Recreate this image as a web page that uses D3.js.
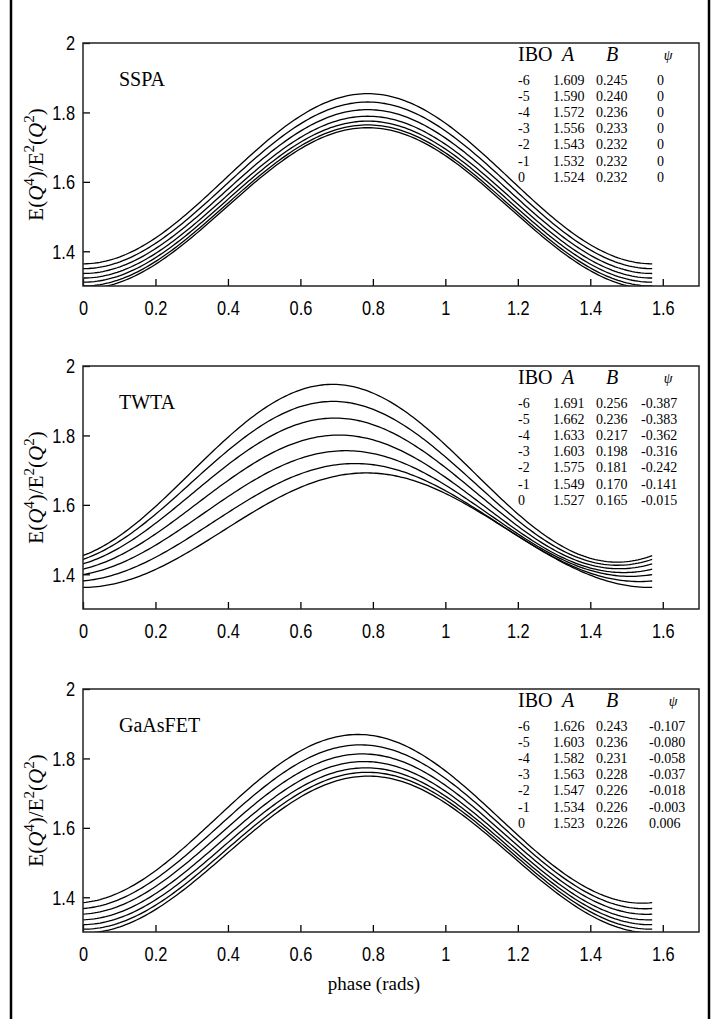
<!DOCTYPE html>
<html>
<head>
<meta charset="utf-8">
<script src="https://cdn.jsdelivr.net/npm/d3@7"></script>
<style>
  body { margin: 0; background: #fff; }
  svg { display: block; }
  .tick text { font-family: "Liberation Sans", Arial, sans-serif; font-size: 21px; fill: #000; }
  .serif { font-family: "Liberation Serif", "Times New Roman", serif; fill: #000; }
</style>
</head>
<body>
<div id="chart"></div>
<script>
// table values printed in each panel
const ibo = [-6, -5, -4, -3, -2, -1, 0];

const sspaA   = [1.609, 1.590, 1.572, 1.556, 1.543, 1.532, 1.524];
const sspaB   = [0.245, 0.240, 0.236, 0.233, 0.232, 0.232, 0.232];
const sspaPsi = [0, 0, 0, 0, 0, 0, 0];

const twtaA   = [1.691, 1.662, 1.633, 1.603, 1.575, 1.549, 1.527];
const twtaB   = [0.256, 0.236, 0.217, 0.198, 0.181, 0.170, 0.165];
const twtaPsi = [-0.387, -0.383, -0.362, -0.316, -0.242, -0.141, -0.015];

const gaasA   = [1.626, 1.603, 1.582, 1.563, 1.547, 1.534, 1.523];
const gaasB   = [0.243, 0.236, 0.231, 0.228, 0.226, 0.226, 0.226];
const gaasPsi = [-0.107, -0.080, -0.058, -0.037, -0.018, -0.003, 0.006];

const sspaPsiLbl = ["0", "0", "0", "0", "0", "0", "0"];
const twtaPsiLbl = ["-0.387", "-0.383", "-0.362", "-0.316", "-0.242", "-0.141", "-0.015"];
const gaasPsiLbl = ["-0.107", "-0.080", "-0.058", "-0.037", "-0.018", "-0.003", "0.006"];

const xTicks = [0, 0.2, 0.4, 0.6, 0.8, 1, 1.2, 1.4, 1.6];
const yTicks = [1.4, 1.6, 1.8, 2];

const panels = [
    {name: "SSPA", A: sspaA, B: sspaB, psi: sspaPsi, psiLbl: sspaPsiLbl, top: 43, psiX: 657, psiHead: 668},
    {name: "TWTA", A: twtaA, B: twtaB, psi: twtaPsi, psiLbl: twtaPsiLbl, top: 366, psiX: 641, psiHead: 668},
    {name: "GaAsFET", A: gaasA, B: gaasB, psi: gaasPsi, psiLbl: gaasPsiLbl, top: 689, psiX: 649, psiHead: 673}
];

var W = 726, H = 1019
    ,left = 83
    ,right = 699
    ,ph = 243
    ,sx = 0.78; // squeeze for the narrow tick font

var svg = d3.select("#chart").append("svg")
    .attr("width", W)
    .attr("height", H);

// outer frame
svg.append("rect")
    .attr("x", 11).attr("y", -5)
    .attr("width", 698).attr("height", H + 10)
    .attr("fill", "none")
    .attr("stroke", "#000")
    .attr("stroke-width", 2.5);

var x = d3.scaleLinear().domain([0, 1.7]).range([left, right]);

// phase grid 0..pi/2
var phase = d3.range(0, 201).map(i => i / 200 * Math.PI / 2);

panels.forEach((p, pi) => {
    var y = d3.scaleLinear().domain([1.3, 2]).range([p.top + ph, p.top]);
    var g = svg.append("g");

    g.append("clipPath").attr("id", "clip" + pi)
        .append("rect")
        .attr("x", left).attr("y", p.top)
        .attr("width", right - left).attr("height", ph);

    var line = d3.line()
        .x(d => x(d[0]))
        .y(d => y(d[1]));

    var curves = ibo.map((v, i) => phase.map(t => [t, p.A[i] - p.B[i] * Math.cos(4 * t - p.psi[i])]));

    g.append("g")
        .attr("clip-path", "url(#clip" + pi + ")")
        .selectAll("path")
        .data(curves)
        .enter()
        .append("path")
        .attr("d", line)
        .attr("fill", "none")
        .attr("stroke", "#000")
        .attr("stroke-width", 1.3);

    var xAxis = d3.axisBottom(x)
        .tickValues(xTicks)
        .tickFormat(d3.format("~g"))
        .tickSizeInner(-7)
        .tickSizeOuter(0)
        .tickPadding(14);

    var yAxis = d3.axisLeft(y)
        .tickValues(yTicks)
        .tickFormat(d3.format("~g"))
        .tickSizeInner(-7)
        .tickSizeOuter(0)
        .tickPadding(8);

    var gx = g.append("g")
        .attr("transform", "translate(0," + (p.top + ph) + ")")
        .call(xAxis)
        .call(a => a.select(".domain").remove());
    gx.selectAll("line").attr("stroke", "#000").attr("stroke-width", 1.3);
    gx.selectAll("text").attr("transform", "scale(" + sx + ",1)");

    var gy = g.append("g")
        .attr("transform", "translate(" + left + ",0)")
        .call(yAxis)
        .call(a => a.select(".domain").remove());
    gy.selectAll("line").attr("stroke", "#000").attr("stroke-width", 1.3);
    gy.selectAll("text")
        .attr("x", -8 / sx)
        .attr("transform", "scale(" + sx + ",1)");

    // box
    g.append("rect")
        .attr("x", left).attr("y", p.top)
        .attr("width", right - left).attr("height", ph)
        .attr("fill", "none")
        .attr("stroke", "#222")
        .attr("stroke-width", 1.5);

    // panel name
    g.append("text")
        .attr("class", "serif")
        .attr("x", 119).attr("y", p.top + 43)
        .style("font-size", "20px")
        .text(p.name);

    // y label
    var yl = g.append("text")
        .attr("class", "serif")
        .attr("transform", "translate(43," + (p.top + ph / 2) + ") rotate(-90)")
        .attr("text-anchor", "middle")
        .style("font-size", "21px");
    yl.append("tspan").text("E(");
    yl.append("tspan").style("font-style", "italic").text("Q");
    yl.append("tspan").attr("dy", -9).style("font-size", "15px").text("4");
    yl.append("tspan").attr("dy", 9).text(")/E");
    yl.append("tspan").attr("dy", -9).style("font-size", "15px").text("2");
    yl.append("tspan").attr("dy", 9).text("(");
    yl.append("tspan").style("font-style", "italic").text("Q");
    yl.append("tspan").attr("dy", -9).style("font-size", "15px").text("2");
    yl.append("tspan").attr("dy", 9).text(")");

    // parameter table
    var head = g.append("g").attr("class", "serif").style("font-size", "20px");
    head.append("text").attr("x", 518).attr("y", p.top + 18).text("IBO");
    head.append("text").attr("x", 568).attr("y", p.top + 18).attr("text-anchor", "middle")
        .style("font-style", "italic").text("A");
    head.append("text").attr("x", 612).attr("y", p.top + 18).attr("text-anchor", "middle")
        .style("font-style", "italic").text("B");
    head.append("text").attr("x", p.psiHead).attr("y", p.top + 17).attr("text-anchor", "middle")
        .style("font-style", "italic").style("font-size", "14px").text("ψ");

    var rows = g.append("g").attr("class", "serif").style("font-size", "14px")
        .selectAll("g")
        .data(ibo)
        .enter()
        .append("g")
        .attr("transform", (d, i) => "translate(0," + (p.top + 42 + i * 16.1) + ")");

    rows.append("text").attr("x", 518).text(d => d);
    rows.append("text").attr("x", 553).text((d, i) => p.A[i].toFixed(3));
    rows.append("text").attr("x", 596).text((d, i) => p.B[i].toFixed(3));
    rows.append("text").attr("x", p.psiX).text((d, i) => p.psiLbl[i]);
});

svg.append("text")
    .attr("class", "serif")
    .attr("x", 374).attr("y", 990)
    .attr("text-anchor", "middle")
    .style("font-size", "19px")
    .text("phase (rads)");
</script>
</body>
</html>
